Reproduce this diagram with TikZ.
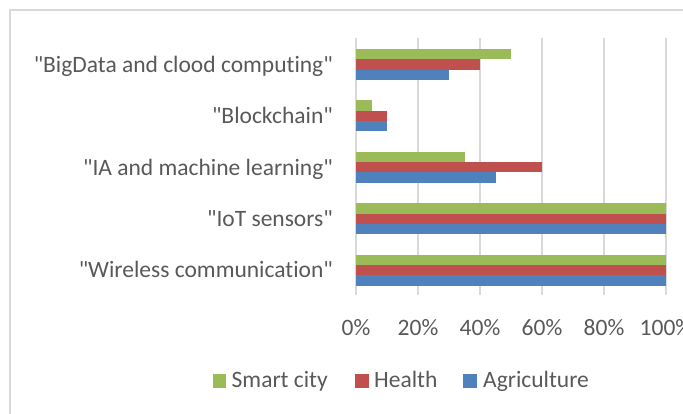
\documentclass[tikz,border=0pt]{standalone}
\usepackage{fontspec}
\newfontfamily\chartfont{Carlito}[Ligatures=NoCommon]
\definecolor{agri}{HTML}{4F81BD}
\definecolor{health}{HTML}{C0504D}
\definecolor{city}{HTML}{9BBB59}
\definecolor{txtgray}{HTML}{595959}
\definecolor{gridgray}{HTML}{D9D9D9}
\begin{document}
\begin{tikzpicture}[x=1pt,y=-1pt,
  lbl/.style={text=txtgray,font=\chartfont\fontsize{23.5}{28}\selectfont,inner sep=0pt},
  gridline/.style={draw=gridgray,line width=1.3pt},
  frame/.style={draw=gridgray,line width=1.3pt}]
\useasboundingbox (0,0) rectangle (683,413);
\clip (0,0) rectangle (683,413);
% chart frame (right and bottom edges are outside the picture)
\draw[frame] (10,420) -- (10,10) -- (690,10);
% gridlines
\foreach \i in {0,...,5}{
  \draw[gridline] ({356+62*\i},38) -- ({356+62*\i},295);
}
% bars: category index from top, values (city, health, agri) in percent
\foreach \c/\g/\r/\b in {0/50/40/30, 1/5/10/10, 2/35/60/45, 3/100/100/100, 4/100/100/100}{
  \pgfmathsetmacro{\top}{38+51.4*\c}
  \fill[city]   (356,{\top+11})   rectangle ({356+3.1*\g},{\top+21.3});
  \fill[health] (356,{\top+21.3}) rectangle ({356+3.1*\r},{\top+31.6});
  \fill[agri]   (356,{\top+31.6}) rectangle ({356+3.1*\b},{\top+41.9});
}
% category labels
\node[lbl,anchor=base east] (cat1) at (333,72.2)  {"BigData and clood computing"};
\node[lbl,anchor=base east] (cat2) at (333,123.6) {"Blockchain"};
\node[lbl,anchor=base east] (cat3) at (333,175.0) {"IA and machine learning"};
\node[lbl,anchor=base east] (cat4) at (333,226.4) {"IoT sensors"};
\node[lbl,anchor=base east] (cat5) at (333,277.8) {"Wireless communication"};
% axis labels
\foreach \i/\t in {0/0\%,1/20\%,2/40\%,3/60\%,4/80\%,5/100\%}{
  \node[lbl,anchor=base] (ax\i) at ({356+62*\i},335) {\t};
}
% legend
\fill[city]   (212.5,374) rectangle (226,387.5);
\node[lbl,anchor=base west] (leg1) at (231.5,387.3) {Smart city};
\fill[health] (355,374) rectangle (368.5,387.5);
\node[lbl,anchor=base west] (leg2) at (374,387.3) {Health};
\fill[agri]   (463,374) rectangle (476.5,387.5);
\node[lbl,anchor=base west] (leg3) at (483,387.3) {Agriculture};
\end{tikzpicture}
\end{document}
